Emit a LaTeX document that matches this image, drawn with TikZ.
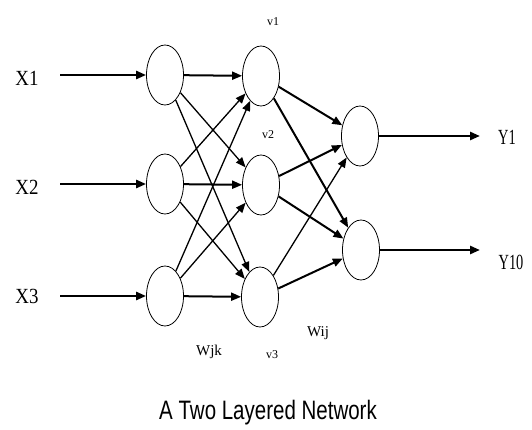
\documentclass[tikz,border=0pt]{standalone}
\usepackage{fontspec}
\setmainfont{Liberation Serif}
\newfontfamily\titlefont{Liberation Sans}
\usetikzlibrary{arrows.meta,shapes.geometric}
\tikzset{
  neuron/.style={draw, ellipse, line width=0.8pt, minimum width=37pt, minimum height=60pt, inner sep=0pt},
  tip/.style={-{Triangle[length=10pt,width=8pt]}},
  inarrow/.style={tip, line width=2.4pt},
  hzarrow/.style={tip, line width=2pt},
  diag/.style={tip, line width=1.3pt},
  hoarrow/.style={tip, line width=2pt},
  outarrow/.style={tip, line width=2.6pt},
  xlab/.style={font=\fontsize{18}{18}\selectfont, inner sep=0pt},
  small/.style={font=\fontsize{12}{12}\selectfont, inner sep=0pt},
  wlab/.style={font=\fontsize{15}{15}\selectfont, inner sep=0pt},
}
\begin{document}
\begin{tikzpicture}[x=1pt,y=-1pt]
\useasboundingbox (0,0) rectangle (532,430);
% nodes
\node[neuron] (i1) at (165,75) {};
\node[neuron] (i2) at (165,184) {};
\node[neuron] (i3) at (165,296) {};
\node[neuron] (h1) at (261,76) {};
\node[neuron] (h2) at (261,185) {};
\node[neuron] (h3) at (260,297) {};
\node[neuron] (o1) at (360,136) {};
\node[neuron] (o2) at (361,250) {};
% labels
\node[xlab] (lx1) at (27,78) {\scalebox{1.05}[1.2]{X1}};
\node[xlab] (lx2) at (27,187) {\scalebox{1.05}[1.2]{X2}};
\node[xlab] (lx3) at (27,296) {\scalebox{1.05}[1.2]{X3}};
\node[xlab] (ly1) at (507,137) {\scalebox{0.8}[1.2]{Y1}};
\node[xlab] (ly2) at (511,262) {\scalebox{0.8}[1.2]{Y10}};
\node[small] (lv1) at (273,22) {v1};
\node[small] (lv2) at (268,135) {v2};
\node[small] (lv3) at (272,355) {v3};
\node[wlab] (lwjk) at (209,352) {Wjk};
\node[wlab] (lwij) at (318,333) {Wij};
\node[font=\titlefont\fontsize{20.5}{20.5}\selectfont, inner sep=0pt] (title) at (268,413) {\scalebox{1}[1.3]{A Two Layered Network}};
% input arrows
\coordinate (s1) at (60,75);
\coordinate (s2) at (60,184);
\coordinate (s3) at (60,296);
\draw[inarrow] (s1) -- (i1);
\draw[inarrow] (s2) -- (i2);
\draw[inarrow] (s3) -- (i3);
% input -> hidden
\draw[hzarrow] (i1) -- (h1);
\draw[hzarrow] (i2) -- (h2);
\draw[hzarrow] (i3) -- (h3);
\draw[diag] (i1) -- (h2);
\draw[diag] (i1) -- (h3);
\draw[diag] (i2) -- (h1);
\draw[diag] (i2) -- (h3);
\draw[diag] (i3) -- (h1);
\draw[diag] (i3) -- (h2);
% hidden -> output
\draw[hoarrow] (h1) -- (o1);
\draw[hoarrow] (h1) -- (o2);
\draw[hoarrow] (h2) -- (o1);
\draw[hoarrow] (h2) -- (o2);
\draw[diag] (h3) -- (o1);
\draw[hoarrow] (h3) -- (o2);
% output arrows
\coordinate (t1) at (480,136);
\coordinate (t2) at (480,250);
\draw[outarrow] (o1) -- (t1);
\draw[outarrow] (o2) -- (t2);
\end{tikzpicture}
\end{document}
